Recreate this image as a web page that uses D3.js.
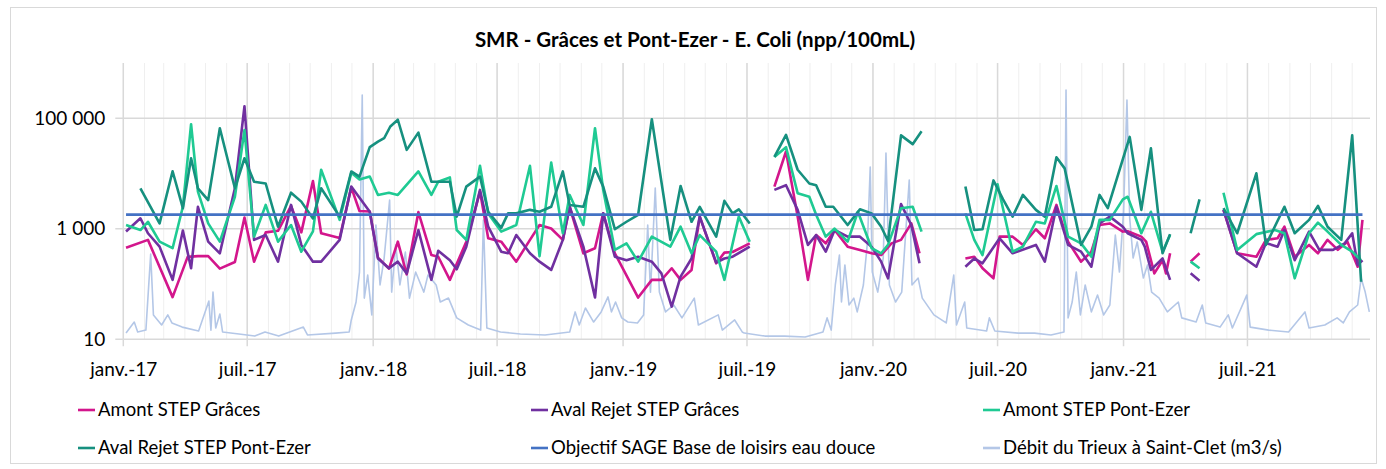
<!DOCTYPE html>
<html>
<head>
  <meta charset="utf-8">
  <title>SMR - Grâces et Pont-Ezer - E. Coli</title>
  <style>
    body { margin: 0; background: #fff; }
    text { font-family: Lato, "Open Sans", sans-serif; fill: #000; }
    .axis .domain { display: none; }
    .axis line { display: none; }
  </style>
</head>
<body>
  <svg id="chart" width="1386" height="469"></svg>

  <script src="https://cdn.jsdelivr.net/npm/d3@7/dist/d3.min.js"></script>
  <script>

    /******* Data *******/

    var seriesNames = ["Amont STEP Grâces", "Aval Rejet STEP Grâces", "Amont STEP Pont-Ezer",
                       "Aval Rejet STEP Pont-Ezer", "Objectif SAGE Base de loisirs eau douce",
                       "Débit du Trieux à Saint-Clet (m3/s)"];
    var seriesColors = ["#d3168c", "#7030a0", "#1fca93", "#16907f", "#4472c4", "#b4c7e7"];

    var yTickValues = [10, 1000, 100000];
    var xTickLabels = ["janv.-17", "juil.-17", "janv.-18", "juil.-18", "janv.-19",
                       "juil.-19", "janv.-20", "juil.-20", "janv.-21", "juil.-21"];

    // E. coli (npp/100mL), null = pas de prélèvement (coupure de la courbe)
    var amontGraces = [
      ["2017-01-05",455],["2017-02-06",630],["2017-03-14",58],["2017-04-05",310],["2017-04-20",320],
      ["2017-05-05",320],["2017-05-22",190],["2017-06-13",250],["2017-06-27",1600],["2017-07-11",254],
      ["2017-07-28",860],["2017-08-15",920],["2017-09-03",2600],["2017-09-18",860],["2017-10-05",7300],
      ["2017-10-17",830],["2017-11-13",680],["2017-11-30",5600],["2017-12-12",2100],["2017-12-27",2050],
      ["2018-01-08",300],["2018-01-24",190],["2018-02-06",585],["2018-02-19",150],["2018-03-08",2000],
      ["2018-03-27",335],["2018-04-06",312],["2018-04-23",119],["2018-05-17",585],["2018-06-06",4700],
      ["2018-06-18",673],["2018-07-07",585],["2018-07-29",254],["2018-08-18",630],["2018-09-01",1170],
      ["2018-09-18",1010],["2018-10-05",630],["2018-10-15",2500],["2018-11-04",360],["2018-11-21",445],
      ["2018-12-03",1900],["2018-12-20",360],["2019-01-23",57],["2019-02-12",119],["2019-02-26",119],
      ["2019-03-13",193],["2019-03-26",119],["2019-04-11",180],["2019-04-23",1660],["2019-05-17",237],
      ["2019-05-29",370],["2019-06-10",380],["2019-07-05",545],["2019-07-20",null],["2019-08-10",5800],
      ["2019-08-27",25000],["2019-09-13",1660],["2019-09-28",119],["2019-10-10",770],["2019-10-24",545],
      ["2019-11-06",950],["2019-11-25",475],["2019-12-13",415],["2019-12-30",360],["2020-01-13",335],
      ["2020-01-28",545],["2020-02-11",630],["2020-02-26",1250],["2020-03-09",360],["2020-04-15",null],
      ["2020-05-15",290],["2020-05-28",312],["2020-06-09",193],["2020-06-25",127],["2020-07-04",720],
      ["2020-07-23",720],["2020-08-07",510],["2020-08-26",980],["2020-09-08",673],["2020-09-25",2700],
      ["2020-10-12",585],["2020-10-31",254],["2020-11-15",385],["2020-11-27",1170],["2020-12-12",1250],
      ["2020-12-31",890],["2021-01-07",900],["2021-01-27",720],["2021-02-03",585],["2021-02-15",156],
      ["2021-02-27",270],["2021-03-04",156],["2021-03-10",360],["2021-03-25",null],["2021-04-09",254],
      ["2021-04-22",360],["2021-05-05",null],["2021-05-27",2200],["2021-06-16",360],["2021-07-14",312],
      ["2021-07-28",630],["2021-08-14",673],["2021-08-24",1090],["2021-09-08",312],["2021-09-29",510],
      ["2021-10-12",360],["2021-10-26",630],["2021-11-10",415],["2021-11-24",585],["2021-12-09",206],
      ["2021-12-16",1450]
    ];

    var avalGraces = [
      ["2017-01-05",890],["2017-01-26",1550],["2017-02-06",830],["2017-02-23",475],["2017-03-14",119],
      ["2017-03-29",930],["2017-04-10",193],["2017-04-20",2500],["2017-05-05",585],["2017-05-22",360],
      ["2017-06-13",5400],["2017-06-27",165000],["2017-07-11",630],["2017-07-28",770],["2017-08-15",254],
      ["2017-09-03",2700],["2017-09-18",510],["2017-10-05",254],["2017-10-17",254],["2017-11-13",630],
      ["2017-11-30",5800],["2017-12-27",2030],["2018-01-08",290],["2018-01-24",193],["2018-02-06",254],
      ["2018-02-19",156],["2018-03-08",950],["2018-03-27",119],["2018-04-06",400],["2018-04-23",270],
      ["2018-05-03",185],["2018-05-17",475],["2018-06-06",5050],["2018-06-18",1090],["2018-07-07",385],
      ["2018-07-17",360],["2018-07-29",770],["2018-08-18",360],["2018-09-01",254],["2018-09-18",180],
      ["2018-10-05",630],["2018-10-15",2500],["2018-11-04",475],["2018-11-21",57],["2018-12-03",1900],
      ["2018-12-20",312],["2019-01-06",270],["2019-01-23",312],["2019-02-12",254],["2019-02-26",156],
      ["2019-03-13",39],["2019-03-26",136],["2019-04-11",290],["2019-04-23",1660],["2019-05-17",245],
      ["2019-05-29",290],["2019-06-10",312],["2019-07-05",475],["2019-07-20",null],["2019-08-10",5050],
      ["2019-08-27",6150],["2019-09-13",2200],["2019-09-28",510],["2019-10-10",770],["2019-10-24",385],
      ["2019-11-06",950],["2019-11-25",720],["2019-12-13",720],["2019-12-30",475],["2020-01-13",254],
      ["2020-01-23",127],["2020-02-11",2800],["2020-02-26",1170],["2020-03-09",237],["2020-04-15",null],
      ["2020-05-15",206],["2020-05-28",290],["2020-06-09",237],["2020-07-04",673],["2020-07-23",360],
      ["2020-08-26",510],["2020-09-08",254],["2020-09-25",2500],["2020-10-12",510],["2020-10-31",385],
      ["2020-11-15",206],["2020-11-27",1250],["2020-12-12",1660],["2020-12-31",1090],["2021-01-07",830],
      ["2021-01-27",630],["2021-02-01",475],["2021-02-10",180],["2021-02-27",290],["2021-03-10",119],
      ["2021-03-25",null],["2021-04-09",156],["2021-04-22",115],["2021-05-05",null],["2021-05-27",2200],
      ["2021-06-16",360],["2021-07-14",206],["2021-07-28",550],["2021-08-14",475],["2021-08-24",950],
      ["2021-09-08",270],["2021-09-29",890],["2021-10-14",415],["2021-11-03",415],["2021-11-20",545],
      ["2021-12-01",830],["2021-12-09",222],["2021-12-16",270]
    ];

    var amontPontEzer = [
      ["2017-01-05",1170],["2017-01-26",950],["2017-02-06",1340],["2017-02-23",585],["2017-03-14",445],
      ["2017-03-29",2500],["2017-04-10",78000],["2017-04-20",4700],["2017-05-05",1250],["2017-05-22",585],
      ["2017-06-13",3800],["2017-06-27",61000],["2017-07-11",720],["2017-07-28",2700],["2017-08-15",585],
      ["2017-09-03",1170],["2017-09-18",385],["2017-10-05",900],["2017-10-17",11700],["2017-11-13",1450],
      ["2017-11-30",10300],["2017-12-12",7800],["2017-12-27",8800],["2018-01-08",4100],["2018-01-24",4500],
      ["2018-02-06",4100],["2018-03-08",10900],["2018-03-27",4100],["2018-04-06",7100],["2018-04-23",8500],
      ["2018-05-03",950],["2018-05-17",630],["2018-06-06",13800],["2018-06-18",1900],["2018-07-07",890],
      ["2018-07-29",1170],["2018-08-18",13800],["2018-09-01",320],["2018-09-18",15800],["2018-10-05",830],
      ["2018-10-15",4100],["2018-11-04",1170],["2018-11-21",66000],["2018-12-03",5050],["2018-12-20",415],
      ["2019-01-06",545],["2019-01-23",254],["2019-02-12",720],["2019-03-11",475],["2019-03-26",1090],
      ["2019-04-11",360],["2019-04-23",770],["2019-05-17",385],["2019-05-29",119],["2019-06-19",1660],
      ["2019-07-05",585],["2019-07-20",null],["2019-08-10",20000],["2019-08-27",30000],["2019-09-13",4400],
      ["2019-09-30",3800],["2019-10-10",1790],["2019-10-24",720],["2019-11-06",1010],["2019-11-25",585],
      ["2019-12-10",2030],["2019-12-30",445],["2020-01-13",360],["2020-01-23",510],["2020-02-11",2360],
      ["2020-02-28",2500],["2020-03-12",890],["2020-04-15",null],["2020-05-15",1900],["2020-05-28",630],
      ["2020-06-09",335],["2020-07-01",6400],["2020-07-23",385],["2020-08-07",475],["2020-08-26",1340],
      ["2020-09-08",1250],["2020-09-25",5950],["2020-10-12",720],["2020-10-31",545],["2020-11-15",312],
      ["2020-11-27",1450],["2020-12-12",1450],["2020-12-31",3400],["2021-01-07",3800],["2021-01-27",830],
      ["2021-02-10",2030],["2021-02-27",385],["2021-03-10",770],["2021-03-25",null],["2021-04-09",254],
      ["2021-04-22",193],["2021-05-05",null],["2021-05-27",4500],["2021-06-16",415],["2021-07-14",800],
      ["2021-08-10",950],["2021-08-24",830],["2021-09-08",127],["2021-09-29",830],["2021-10-12",1290],
      ["2021-10-26",890],["2021-11-15",510],["2021-12-01",385],["2021-12-14",270]
    ];

    var avalPontEzer = [
      ["2017-01-26",5400],["2017-02-23",1250],["2017-03-14",11000],["2017-03-29",2360],["2017-04-10",18900],
      ["2017-04-20",5400],["2017-05-05",3300],["2017-05-22",66000],["2017-06-13",5400],["2017-06-27",18900],
      ["2017-07-11",7100],["2017-07-28",6600],["2017-08-15",1090],["2017-09-03",4500],["2017-09-18",3100],
      ["2017-10-05",1540],["2017-10-17",5400],["2017-11-13",1660],["2017-11-30",10900],["2017-12-12",8800],
      ["2017-12-27",30000],["2018-01-08",37700],["2018-01-17",43500],["2018-01-26",71000],["2018-02-06",94000],
      ["2018-02-19",26800],["2018-03-08",55000],["2018-03-27",7100],["2018-04-06",7100],["2018-04-23",7100],
      ["2018-05-03",1660],["2018-05-17",5800],["2018-06-06",8800],["2018-06-18",2030],["2018-07-07",1040],
      ["2018-07-17",1900],["2018-07-29",1900],["2018-08-18",2200],["2018-09-01",2030],["2018-09-18",2500],
      ["2018-10-05",10900],["2018-10-15",2700],["2018-11-04",2500],["2018-11-21",12400],["2018-12-03",5800],
      ["2018-12-20",980],["2019-01-06",1340],["2019-01-23",1790],["2019-02-12",96000],["2019-03-11",630],
      ["2019-03-26",5950],["2019-04-11",1340],["2019-04-23",2500],["2019-05-17",720],["2019-05-29",3200],
      ["2019-06-10",1900],["2019-06-19",2250],["2019-07-05",1250],["2019-07-20",null],["2019-08-10",20000],
      ["2019-08-27",50000],["2019-09-13",11700],["2019-09-30",6600],["2019-10-10",6150],["2019-10-24",2500],
      ["2019-11-04",2500],["2019-11-25",1170],["2019-12-13",2250],["2019-12-30",1900],["2020-01-13",1090],
      ["2020-01-23",600],["2020-02-11",49000],["2020-02-28",34000],["2020-03-12",58000],["2020-04-15",null],
      ["2020-05-15",5800],["2020-05-28",950],["2020-06-09",980],["2020-06-25",7500],["2020-07-09",3400],
      ["2020-07-23",1660],["2020-08-07",4100],["2020-08-26",2200],["2020-09-08",1660],["2020-09-25",19700],
      ["2020-10-07",12400],["2020-10-31",510],["2020-11-15",1090],["2020-11-27",4100],["2020-12-09",2360],
      ["2021-01-10",46000],["2021-01-27",2200],["2021-02-10",28600],["2021-02-27",360],["2021-03-10",800],
      ["2021-03-25",null],["2021-04-09",830],["2021-04-22",3400],["2021-05-05",null],["2021-05-27",2360],
      ["2021-06-16",830],["2021-07-14",10100],["2021-07-28",510],["2021-08-24",2500],["2021-09-08",830],
      ["2021-09-29",1450],["2021-10-12",2600],["2021-10-26",1090],["2021-11-15",630],["2021-12-01",49000],
      ["2021-12-14",110]
    ];

    var objectifSage = [["2017-01-05",1800],["2021-12-16",1800]];

    // Débit (m3/s), axe secondaire masqué
    var debitTrieux = [
      ["2017-01-05",2.7],["2017-01-17",7.5],["2017-01-22",3.2],["2017-02-03",4.0],["2017-02-10",37.0],
      ["2017-02-14",10.6],["2017-02-26",6.2],["2017-03-07",10.6],["2017-03-13",7.1],["2017-03-28",5.3],
      ["2017-04-21",3.6],["2017-05-06",16.6],["2017-05-09",4.0],["2017-05-12",20.5],["2017-05-16",4.9],
      ["2017-05-22",11.0],["2017-05-26",3.2],["2017-06-19",2.3],["2017-07-12",1.4],["2017-07-27",3.2],
      ["2017-08-16",1.4],["2017-09-21",5.3],["2017-09-27",1.9],["2017-11-07",2.7],["2017-11-27",3.2],
      ["2017-11-30",8.4],["2017-12-07",16.2],["2017-12-12",29.2],["2017-12-16",106.1],["2017-12-19",17.9],
      ["2017-12-24",27.9],["2017-12-30",10.6],["2018-01-05",49.6],["2018-01-11",23.6],["2018-01-17",35.3],
      ["2018-01-25",60.5],["2018-01-28",20.5],["2018-02-03",41.0],["2018-02-09",23.6],["2018-02-17",37.9],
      ["2018-02-23",17.9],["2018-03-04",29.2],["2018-03-16",20.5],["2018-03-22",27.9],["2018-04-03",23.6],
      ["2018-04-09",16.2],["2018-04-21",17.9],["2018-05-03",9.3],["2018-05-20",6.2],["2018-06-07",4.0],
      ["2018-06-11",51.8],["2018-06-16",4.9],["2018-07-06",3.2],["2018-08-04",2.3],["2018-09-09",1.9],
      ["2018-10-15",3.2],["2018-10-23",11.9],["2018-10-29",6.2],["2018-11-07",13.6],["2018-11-19",7.5],
      ["2018-11-30",11.9],["2018-12-10",18.4],["2018-12-15",11.9],["2018-12-21",16.2],["2018-12-30",9.3],
      ["2019-01-08",7.5],["2019-01-22",7.1],["2019-01-31",10.6],["2019-02-06",49.6],["2019-02-10",20.5],
      ["2019-02-17",65.7],["2019-02-23",20.5],["2019-03-04",11.9],["2019-03-16",14.9],["2019-03-28",9.3],
      ["2019-04-15",17.9],["2019-04-21",6.2],["2019-05-20",10.6],["2019-05-26",4.0],["2019-06-13",8.4],
      ["2019-06-24",3.2],["2019-06-27",2.7],["2019-07-27",1.4],["2019-08-25",1.4],["2019-09-24",1.0],
      ["2019-10-20",3.2],["2019-10-26",9.3],["2019-11-01",4.0],["2019-11-07",23.6],["2019-11-13",36.6],
      ["2019-11-16",16.2],["2019-11-21",32.3],["2019-11-27",14.9],["2019-12-04",17.9],["2019-12-09",11.9],
      ["2019-12-18",23.6],["2019-12-24",42.3],["2019-12-28",74.8],["2019-12-31",29.2],["2020-01-08",20.5],
      ["2020-01-16",35.3],["2020-01-20",80.9],["2020-01-25",23.6],["2020-02-03",16.2],["2020-02-12",20.5],
      ["2020-02-23",69.2],["2020-02-27",23.6],["2020-03-07",26.6],["2020-03-13",17.9],["2020-03-30",10.6],
      ["2020-04-17",7.1],["2020-04-28",27.9],["2020-05-02",6.2],["2020-05-14",16.2],["2020-05-17",4.9],
      ["2020-06-15",3.6],["2020-06-19",9.3],["2020-06-27",3.6],["2020-07-31",2.7],["2020-08-24",2.7],
      ["2020-09-17",1.9],["2020-10-06",3.2],["2020-10-09",108.3],["2020-10-12",9.3],["2020-10-18",16.2],
      ["2020-10-24",29.2],["2020-10-30",10.6],["2020-11-06",23.6],["2020-11-15",11.9],["2020-11-24",19.2],
      ["2020-12-03",10.6],["2020-12-12",14.9],["2020-12-20",45.3],["2020-12-26",29.2],["2021-01-01",55.3],
      ["2021-01-06",103.9],["2021-01-10",52.7],["2021-01-15",35.3],["2021-01-21",42.3],["2021-01-30",26.6],
      ["2021-02-05",32.3],["2021-02-11",20.5],["2021-02-22",17.9],["2021-03-06",11.9],["2021-03-22",16.2],
      ["2021-03-27",9.3],["2021-04-17",7.5],["2021-04-26",14.9],["2021-05-01",7.1],["2021-05-22",5.3],
      ["2021-06-03",10.6],["2021-06-09",4.9],["2021-06-30",19.2],["2021-07-05",5.3],["2021-08-01",4.0],
      ["2021-08-30",3.2],["2021-09-23",11.9],["2021-09-29",4.9],["2021-10-22",6.2],["2021-11-09",9.3],
      ["2021-11-18",7.1],["2021-11-27",11.9],["2021-12-09",14.9],["2021-12-14",26.6],["2021-12-20",20.5],
      ["2021-12-26",11.9]
    ];

    /******* Setup *******/

    var svg = d3.select("#chart"),
        plot = {left: 123.3, right: 1370, top: 63, bottom: 339.3};

    var parseDate = d3.timeParse("%Y-%m-%d");
    function prep(arr) {
      return arr.map(function(d) { return {date: parseDate(d[0]), value: d[1]}; });
    }

    var start = new Date(2017, 0, 1), end = new Date(2021, 11, 27);

    var x = d3.scaleTime().domain([start, end]).range([plot.left, plot.right]);
    var y = d3.scaleLog().domain([10, 1e6]).range([plot.bottom, plot.top]);
    var yFlow = d3.scaleLinear().domain([0, 120]).range([plot.bottom, plot.top]);

    var frLocale = d3.formatLocale({decimal: ",", thousands: "\u00a0", grouping: [3], currency: ["", " €"]});
    var yFormat = frLocale.format(",d");

    //Chart border
    svg.append("rect")
      .attr("x", 10.5).attr("y", 7.5)
      .attr("width", 1366).attr("height", 456)
      .attr("fill", "none")
      .attr("stroke", "#d9d9d9");

    //Title
    svg.append("text")
      .attr("x", 695).attr("y", 47)
      .attr("text-anchor", "middle")
      .attr("font-weight", "bold")
      .attr("font-size", 20.5)
      .text("SMR - Grâces et Pont-Ezer - E. Coli (npp/100mL)");

    /******* Gridlines *******/

    var months = d3.timeMonth.range(start, end);
    var majorTicks = d3.timeMonth.every(6).range(start, end);

    svg.append("g").selectAll("line")
      .data(months)
      .enter().append("line")
      .attr("x1", function(d) { return x(d); })
      .attr("x2", function(d) { return x(d); })
      .attr("y1", plot.top).attr("y2", plot.bottom)
      .attr("stroke", "#efefef");

    svg.append("g").selectAll("line")
      .data(yTickValues)
      .enter().append("line")
      .attr("x1", plot.left - 8).attr("x2", plot.right)
      .attr("y1", function(d) { return y(d); })
      .attr("y2", function(d) { return y(d); })
      .attr("stroke", "#d9d9d9")
      .attr("stroke-width", 1.5);

    svg.append("g").selectAll("line")
      .data(majorTicks)
      .enter().append("line")
      .attr("x1", function(d) { return x(d); })
      .attr("x2", function(d) { return x(d); })
      .attr("y1", plot.top).attr("y2", plot.bottom + 7)
      .attr("stroke", "#d9d9d9")
      .attr("stroke-width", 1.5);

    /******* Axes *******/

    svg.append("g")
      .attr("class", "axis")
      .attr("transform", "translate(" + (plot.left - 15) + ",0)")
      .call(d3.axisLeft(y).tickValues(yTickValues).tickFormat(yFormat).tickSize(0))
      .selectAll("text")
      .style("font-family", "Lato, sans-serif")
      .attr("font-size", 19)
      .attr("fill", "#000");

    svg.append("g")
      .attr("class", "axis")
      .attr("transform", "translate(0," + (plot.bottom + 20) + ")")
      .call(d3.axisBottom(x).tickValues(majorTicks)
        .tickFormat(function(d, i) { return xTickLabels[i]; }).tickSize(0))
      .selectAll("text")
      .style("font-family", "Lato, sans-serif")
      .attr("font-size", 19)
      .attr("fill", "#000");

    /******* Lines *******/

    var line = d3.line()
      .defined(function(d) { return d.value != null; })
      .x(function(d) { return x(d.date); })
      .y(function(d) { return y(d.value); });

    var flowLine = d3.line()
      .x(function(d) { return x(d.date); })
      .y(function(d) { return yFlow(d.value); });

    svg.append("path")
      .datum(prep(debitTrieux))
      .attr("fill", "none")
      .attr("stroke", seriesColors[5])
      .attr("stroke-width", 1.6)
      .attr("stroke-linejoin", "round")
      .attr("d", flowLine);

    var ecoli = [amontGraces, avalGraces, amontPontEzer, avalPontEzer];
    ecoli.forEach(function(s, i) {
      svg.append("path")
        .datum(prep(s))
        .attr("fill", "none")
        .attr("stroke", seriesColors[i])
        .attr("stroke-width", 2.6)
        .attr("stroke-linejoin", "round")
        .attr("d", line);
    });

    svg.append("path")
      .datum(prep(objectifSage))
      .attr("fill", "none")
      .attr("stroke", seriesColors[4])
      .attr("stroke-width", 2.6)
      .attr("d", line);

    /******* Legend *******/

    var legendCols = [78, 531, 983], legendRows = [410, 448];

    var legend = svg.append("g")
      .selectAll("g")
      .data(seriesNames)
      .enter().append("g")
      .attr("transform", function(d, i) {
        return "translate(" + legendCols[i % 3] + "," + legendRows[Math.floor(i / 3)] + ")";
      });

    legend.append("line")
      .attr("x1", 0).attr("x2", 17)
      .attr("stroke", function(d, i) { return seriesColors[i]; })
      .attr("stroke-width", 2.6);

    legend.append("text")
      .attr("x", 20)
      .attr("dy", "0.35em")
      .attr("font-size", 18.5)
      .text(function(d) { return d; });

  </script>
</body>
</html>
